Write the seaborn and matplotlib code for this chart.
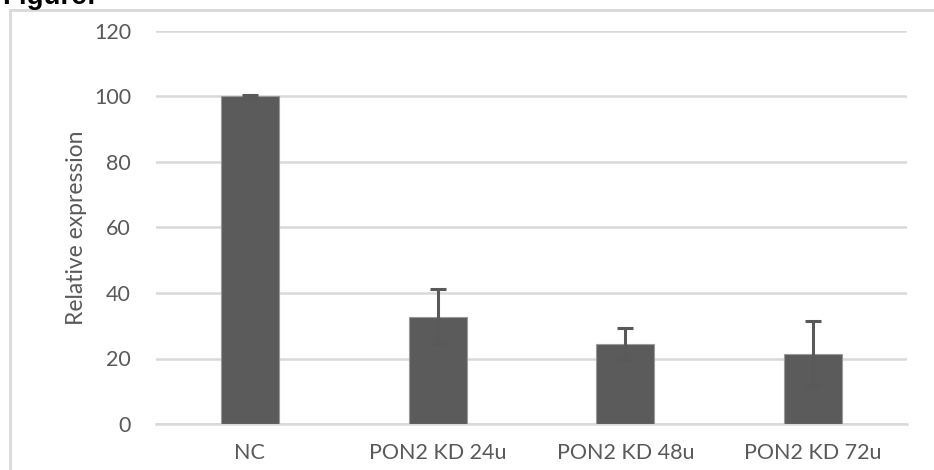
import matplotlib
matplotlib.use("Agg")
import matplotlib.pyplot as plt
import seaborn as sns
import pandas as pd
from matplotlib.lines import Line2D

categories = ["NC", "PON2 KD 24u", "PON2 KD 48u", "PON2 KD 72u"]
values = [100.0, 32.8, 24.4, 21.5]
errors = [0.4, 8.3, 5.0, 9.8]
yticks = [0, 20, 40, 60, 80, 100, 120]

sns.set_theme(style="white")
plt.rcParams["font.family"] = ["Lato", "DejaVu Sans"]

df = pd.DataFrame({"cat": categories, "val": values})

fig = plt.figure(figsize=(9.34, 4.70), dpi=100)
ax = fig.add_axes([156 / 934, 1 - 424 / 470, (907 - 156) / 934, (424 - 31) / 470])

sns.barplot(data=df, x="cat", y="val", color="#5b5b5b", width=0.31,
            edgecolor="#9a9a9a", linewidth=0.8, saturation=1, ax=ax, zorder=3)
ax.errorbar(x=list(range(len(categories))), y=values, yerr=errors, fmt="none",
            ecolor="#595959", elinewidth=2.2, capsize=5.5, capthick=2.2, zorder=4)

ax.set_ylim(0, 120)
ax.set_xlim(-0.5, 3.5)
ax.set_yticks(yticks)
ax.set_yticklabels([str(t) for t in yticks])
ax.yaxis.grid(True, color="#d9d9d9", linewidth=1.8, zorder=0)
ax.set_axisbelow(True)
for s in ["top", "right", "left"]:
    ax.spines[s].set_visible(False)
ax.spines["bottom"].set_color("#d9d9d9")
ax.spines["bottom"].set_linewidth(1.8)
ax.tick_params(axis="both", length=0, labelsize=15.5, colors="#595959")
ax.tick_params(axis="y", pad=18)
ax.tick_params(axis="x", pad=14)
ax.set_xlabel("")
ax.set_ylabel("Relative expression", fontsize=16.5, color="#595959", labelpad=5)

# outer chart frame (partially visible)
fig.add_artist(Line2D([10 / 934, 10 / 934], [0, 1 - 10 / 470], transform=fig.transFigure,
                      color="#d9d9d9", linewidth=2.0))
fig.add_artist(Line2D([10 / 934, 1], [1 - 10 / 470, 1 - 10 / 470], transform=fig.transFigure,
                      color="#d9d9d9", linewidth=2.0))

# cropped caption at top-left
fig.text(2 / 934, 1 - 4 / 470, "Figure:", fontsize=20, fontweight="bold", color="black",
         family=["Liberation Sans", "DejaVu Sans"], ha="left", va="baseline")

fig.savefig("out.png", dpi=100)
